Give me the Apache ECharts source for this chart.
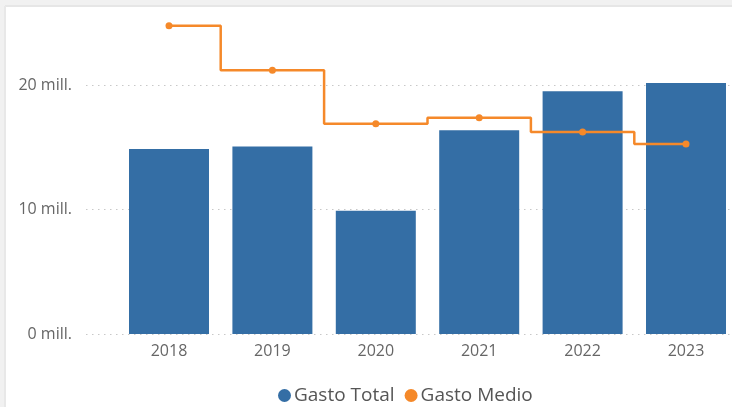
<!DOCTYPE html>
<html>
<head>
<meta charset="utf-8">
<script src="https://cdn.jsdelivr.net/npm/echarts@6/dist/echarts.min.js"></script>
<style>
  html, body { margin: 0; padding: 0; background: #ffffff; }
  #chart { width: 732px; height: 407px; }
</style>
</head>
<body>
<div id="chart"></div>
<script>
// Years on the category axis
const years = ['2018', '2019', '2020', '2021', '2022', '2023'];
// Total spending per year, in millions
const gastoTotal = [14.86, 15.07, 9.9, 16.36, 19.49, 20.16];
// Average spending per year, drawn as a step line
const gastoMedio = [24.76, 21.18, 16.89, 17.37, 16.22, 15.26];
// Value axis ticks
const yTicks = [0, 10, 20];

const chart = echarts.init(document.getElementById('chart'), null, { renderer: 'canvas' });

const font = '"Open Sans", "Noto Sans", sans-serif';
const axisMax = 30;
const plotTop = -39.5;
const plotBottom = 73;

chart.setOption({
  backgroundColor: '#ffffff',
  animation: false,
  textStyle: { fontFamily: font },
  graphic: [
    { type: 'rect', shape: { x: 0, y: 0, width: 732, height: 6 }, style: { fill: '#f1f1f1' }, silent: true, z: 100 },
    { type: 'rect', shape: { x: 0, y: 5, width: 732, height: 2 }, style: { fill: '#e6e6e6' }, silent: true, z: 100 },
    { type: 'rect', shape: { x: 0, y: 0, width: 5, height: 407 }, style: { fill: '#f1f1f1' }, silent: true, z: 100 },
    { type: 'rect', shape: { x: 4, y: 6, width: 2, height: 401 }, style: { fill: '#e8e8e8' }, silent: true, z: 100 }
  ],
  legend: {
    top: 386,
    left: 278,
    padding: 0,
    itemGap: 10,
    itemWidth: 13,
    itemHeight: 13,
    icon: 'circle',
    textStyle: { color: '#555555', fontSize: 19, fontFamily: font, padding: [0, 0, 0, -2] },
    data: ['Gasto Total', 'Gasto Medio']
  },
  grid: [
    { left: 86, right: 0, top: plotTop, bottom: plotBottom, outerBoundsMode: 'none' },
    { left: 117.3, right: -5.7, top: plotTop, bottom: plotBottom, outerBoundsMode: 'none' }
  ],
  xAxis: [
    { type: 'category', gridIndex: 0, data: years, show: false },
    {
      type: 'category', gridIndex: 1, data: years,
      axisLine: { show: false }, axisTick: { show: false },
      axisLabel: { color: '#666666', fontSize: 16, margin: 9, fontFamily: font }
    }
  ],
  yAxis: [
    {
      type: 'value', gridIndex: 0, min: 0, max: axisMax, interval: 10,
      axisLine: { show: false }, axisTick: { show: false },
      splitLine: { lineStyle: { color: '#c8c8c8', type: [1.5, 4.5], width: 1 } },
      axisLabel: {
        color: '#666666', fontSize: 16, margin: 14, fontFamily: font,
        formatter: v => (yTicks.indexOf(v) >= 0 ? v + ' mill.' : '')
      }
    },
    {
      type: 'value', gridIndex: 1, min: 0, max: axisMax, interval: 10,
      show: false, splitLine: { show: false }
    }
  ],
  series: [
    {
      name: 'Gasto Total', type: 'bar', xAxisIndex: 1, yAxisIndex: 1,
      data: gastoTotal, barWidth: 80,
      itemStyle: { color: '#346ea5' }
    },
    {
      name: 'Gasto Medio', type: 'line', xAxisIndex: 1, yAxisIndex: 1,
      data: gastoMedio, step: 'middle',
      symbol: 'circle', symbolSize: 7,
      lineStyle: { color: '#f5892a', width: 2.5 },
      itemStyle: { color: '#f5892a' }
    }
  ]
});
</script>
</body>
</html>
